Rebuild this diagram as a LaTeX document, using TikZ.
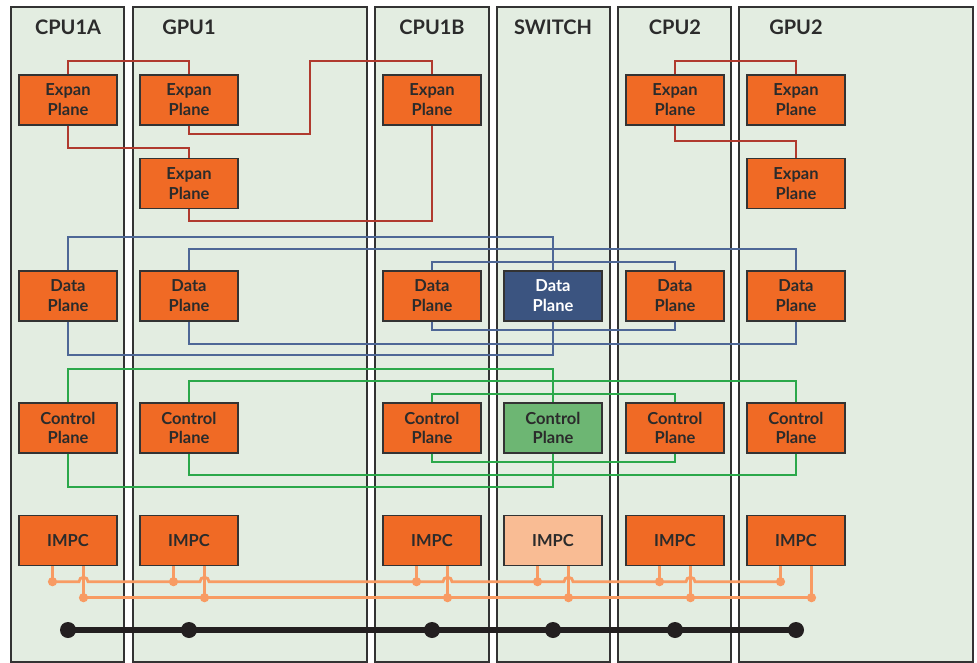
\documentclass[tikz,border=0pt]{standalone}
\usepackage{fontspec}
\setmainfont{Lato}
\usetikzlibrary{calc}
\definecolor{panelfill}{HTML}{E3EDE1}
\definecolor{edge}{HTML}{333333}
\definecolor{boxorange}{HTML}{F06A25}
\definecolor{txt}{HTML}{2B2B2B}
\definecolor{expline}{HTML}{B03A2E}
\definecolor{dataline}{HTML}{4E6796}
\definecolor{ctrlline}{HTML}{2BA84A}
\definecolor{swdata}{HTML}{3B5480}
\definecolor{swctrl}{HTML}{6DB673}
\definecolor{swimpc}{HTML}{F9BC94}
\definecolor{buscol}{HTML}{F89B63}
\definecolor{mainbus}{HTML}{231F20}
\tikzset{
  panel/.style={fill=panelfill,draw=edge,line width=1.5pt},
  title/.style={anchor=base,text=txt,font=\bfseries\fontsize{20}{23}\selectfont},
  box/.style={draw=edge,fill=boxorange,line width=1.4pt,minimum width=98pt,minimum height=50pt,
    align=center,text=txt,inner sep=0pt,font=\bfseries\fontsize{16.5}{19.8}\selectfont},
  expl/.style={draw=expline,line width=1.6pt},
  datal/.style={draw=dataline,line width=1.6pt},
  ctrll/.style={draw=ctrlline,line width=1.6pt},
  busl/.style={draw=buscol,line width=2.8pt},
  busdot/.style={fill=buscol},
  mainl/.style={draw=mainbus,line width=6pt},
}
\begin{document}
\begin{tikzpicture}[x=1pt,y=-1pt]
\useasboundingbox[fill=white] (0,0) rectangle (977,663);
% panels
\draw[panel] (11,7) rectangle (124,662);
\draw[panel] (133,7) rectangle (367,662);
\draw[panel] (375,7) rectangle (489,662);
\draw[panel] (497,7) rectangle (610,662);
\draw[panel] (618,7) rectangle (731,662);
\draw[panel] (739,7) rectangle (973,662);
% titles
\node[title] (tA) at (68,35) {CPU1A};
\node[title] (tG1) at (189,35) {GPU1};
\node[title] (tB) at (432,35) {CPU1B};
\node[title] (tS) at (553,35) {SWITCH};
\node[title] (tC2) at (675,35) {CPU2};
\node[title] (tG2) at (796,35) {GPU2};
% expan planes
\node[box] (eA) at (68,100) {Expan\\Plane};
\node[box] (eG1a) at (189,100) {Expan\\Plane};
\node[box] (eG1b) at (189,183.5) {Expan\\Plane};
\node[box] (eB) at (432,100) {Expan\\Plane};
\node[box] (eC2) at (675,100) {Expan\\Plane};
\node[box] (eG2a) at (796,100) {Expan\\Plane};
\node[box] (eG2b) at (796,183.5) {Expan\\Plane};
% data planes
\node[box] (dA) at (68,296) {Data\\Plane};
\node[box] (dG1) at (189,296) {Data\\Plane};
\node[box] (dB) at (432,296) {Data\\Plane};
\node[box,fill=swdata,text=white] (dS) at (553,296) {Data\\Plane};
\node[box] (dC2) at (675,296) {Data\\Plane};
\node[box] (dG2) at (796,296) {Data\\Plane};
% control planes
\node[box] (cA) at (68,428) {Control\\Plane};
\node[box] (cG1) at (189,428) {Control\\Plane};
\node[box] (cB) at (432,428) {Control\\Plane};
\node[box,fill=swctrl] (cS) at (553,428) {Control\\Plane};
\node[box] (cC2) at (675,428) {Control\\Plane};
\node[box] (cG2) at (796,428) {Control\\Plane};
% IMPC
\node[box] (iA) at (68,540.5) {IMPC};
\node[box] (iG1) at (189,540.5) {IMPC};
\node[box] (iB) at (432,540.5) {IMPC};
\node[box,fill=swimpc] (iS) at (553,540.5) {IMPC};
\node[box] (iC2) at (675,540.5) {IMPC};
\node[box] (iG2) at (796,540.5) {IMPC};
% expan links
\draw[expl] (eA.north) -- (eA.north |- 0,61) -| (eG1a.north);
\draw[expl] (eA.south) -- (eA.south |- 0,148) -| (eG1b.north);
\draw[expl] (eG1a.south) -- (eG1a.south |- 0,134) -- (310,134) -- (310,61) -| (eB.north);
\draw[expl] (eG1b.south) -- (eG1b.south |- 0,221) -| (eB.south);
\draw[expl] (eC2.north) -- (eC2.north |- 0,61) -| (eG2a.north);
\draw[expl] (eC2.south) -- (eC2.south |- 0,141) -| (eG2b.north);
% data links
\draw[datal] (dA.north) -- (dA.north |- 0,237) -| (dS.north);
\draw[datal] (dG1.north) -- (dG1.north |- 0,249) -| (dG2.north);
\draw[datal] (dB.north) -- (dB.north |- 0,262) -| (dC2.north);
\draw[datal] (dB.south) -- (dB.south |- 0,330) -| (dC2.south);
\draw[datal] (dG1.south) -- (dG1.south |- 0,344) -| (dG2.south);
\draw[datal] (dA.south) -- (dA.south |- 0,355) -| (dS.south);
% control links
\draw[ctrll] (cA.north) -- (cA.north |- 0,369) -| (cS.north);
\draw[ctrll] (cG1.north) -- (cG1.north |- 0,381) -| (cG2.north);
\draw[ctrll] (cB.north) -- (cB.north |- 0,394) -| (cC2.north);
\draw[ctrll] (cB.south) -- (cB.south |- 0,462) -| (cC2.south);
\draw[ctrll] (cG1.south) -- (cG1.south |- 0,475) -| (cG2.south);
\draw[ctrll] (cA.south) -- (cA.south |- 0,487) -| (cS.south);
% IMPC bus
\foreach \n in {iA,iG1,iB,iS,iC2,iG2}{
  \draw[busl] ($(\n.south)+(-15.5,0)$) -- ($(\n.south)+(-15.5,15.5)$);
  \draw[busl] ($(\n.south)+(15.5,0)$) -- ($(\n.south)+(15.5,31.5)$);
  \fill[busdot] ($(\n.south)+(-15.5,15.5)$) circle[radius=4.6pt];
  \fill[busdot] ($(\n.south)+(15.5,31.5)$) circle[radius=4.6pt];
}
\draw[busl] ($(iA.south)+(-15.5,15.5)$)
  -- ($(iA.south)+(11,15.5)$) arc[start angle=180,end angle=0,radius=4.5pt]
  -- ($(iG1.south)+(11,15.5)$) arc[start angle=180,end angle=0,radius=4.5pt]
  -- ($(iB.south)+(11,15.5)$) arc[start angle=180,end angle=0,radius=4.5pt]
  -- ($(iS.south)+(11,15.5)$) arc[start angle=180,end angle=0,radius=4.5pt]
  -- ($(iC2.south)+(11,15.5)$) arc[start angle=180,end angle=0,radius=4.5pt]
  -- ($(iG2.south)+(-15.5,15.5)$);
\draw[busl] ($(iA.south)+(15.5,31.5)$) -- ($(iG2.south)+(15.5,31.5)$);
% main bus
\foreach \x/\n in {68/mA,189/mG1,432/mB,553/mS,675/mC2,796/mG2}{
  \coordinate (\n) at (\x,630);
}
\draw[mainl] (mA) -- (mG2);
\foreach \n in {mA,mG1,mB,mS,mC2,mG2}{
  \fill[mainbus] (\n) circle[radius=8pt];
}
\end{tikzpicture}
\end{document}
